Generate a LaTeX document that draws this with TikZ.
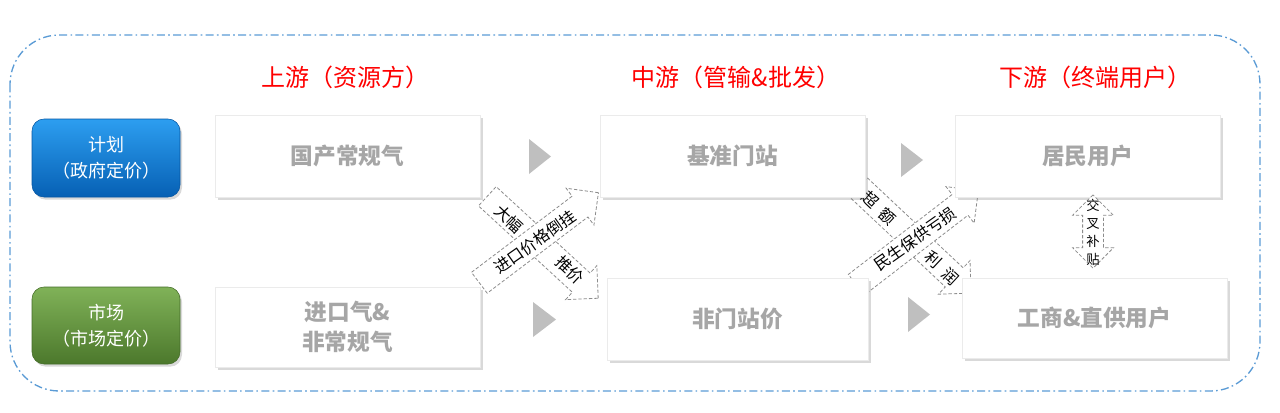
\documentclass[tikz,border=0pt]{standalone}
\usepackage{fontspec}
\setmainfont{Noto Sans CJK SC}
\usetikzlibrary{shapes.arrows,shadows}
\definecolor{borderblue}{RGB}{91,155,213}
\definecolor{boxtext}{RGB}{166,166,166}
\definecolor{tri}{RGB}{191,191,191}
\definecolor{dashgray}{RGB}{140,140,140}
\definecolor{bluetop}{RGB}{45,158,240}
\definecolor{bluebot}{RGB}{6,96,180}
\definecolor{greentop}{RGB}{128,178,88}
\definecolor{greenbot}{RGB}{76,120,44}
\begin{document}
\begin{tikzpicture}[x=0.75pt,y=-0.75pt,
  header/.style={text=red, font=\fontsize{18}{22}\selectfont, inner sep=0pt},
  infobox/.style={fill=white, draw=black!8, minimum width=198.75pt, minimum height=61.5pt,
    inner sep=0pt, align=center, text=boxtext, font=\fontsize{17}{22.5}\selectfont\bfseries,
    drop shadow={shadow xshift=2.2pt, shadow yshift=-2.2pt, opacity=0.3}},
  button/.style={rounded corners=9pt, minimum width=111pt, minimum height=58.5pt, inner sep=0pt,
    align=center, text=white, font=\fontsize{13.5}{19.5}\selectfont,
    drop shadow={shadow xshift=1.5pt, shadow yshift=-2pt, opacity=0.3}},
  blockarrow/.style={single arrow, draw=dashgray, fill=white, line width=0.6pt,
    dash pattern=on 2.5pt off 1.5pt, inner sep=0pt, inner ysep=9.5pt,
    single arrow head extend=7.5pt, single arrow tip angle=90, anchor=tail},
  arrowtext/.style={font=\fontsize{12}{14}\selectfont, inner sep=0pt},
  tri/.style={fill=tri}
]
\useasboundingbox (0,0) rectangle (1280,412);
% frame
\draw[borderblue, line width=1pt, dash pattern=on 6pt off 2.5pt on 1.2pt off 2.5pt,
  rounded corners=37pt] (10,35) rectangle (1260,391);
% headers
\node[header] (h1) at (345,77) {上游（资源方）};
\node[header] (h2) at (736,77) {中游（管输\&批发）};
\node[header] (h3) at (1095,77) {下游（终端用户）};
% buttons
\node[button, top color=bluetop, bottom color=bluebot, draw=bluebot!90!black] (plan) at (106,158) {计划\\（政府定价）};
\node[button, top color=greentop, bottom color=greenbot, draw=greenbot!90!black, minimum height=57.75pt] (market) at (106,325.5) {市场\\（市场定价）};
% cross arrows left
\node[blockarrow, rotate=-42.6, minimum height=113pt] (a1) at (487,196) {};
\node[arrowtext, rotate=-43] (t1a) at (509,219) {大幅};
\node[arrowtext, rotate=-43] (t1b) at (570,270) {推价};
\node[blockarrow, rotate=37.1, minimum height=112pt] (a2) at (479,283) {};
\node[arrowtext, rotate=35] (t2) at (535,242) {进口价格倒挂};
% cross arrows right
\node[blockarrow, rotate=-43.2, minimum height=116pt] (a3) at (858,187) {};
\node[arrowtext, rotate=-43] (t3a) at (879,208) {超\hspace{0.5em}额};
\node[arrowtext, rotate=-43] (t3b) at (942,268) {利\hspace{0.5em}润};
\node[blockarrow, rotate=37.6, minimum height=115.5pt] (a4) at (856,285) {};
\node[arrowtext, rotate=35] (t4) at (915,239) {民生保供亏损};
% boxes
\node[infobox] (A) at (347.5,156) {国产常规气};
\node[infobox, minimum height=60pt] (B) at (347.5,327) {进口气\&\\非常规气};
\node[infobox] (C) at (732.5,156) {基准门站};
\node[infobox, minimum width=195.75pt] (D) at (737.5,319) {非门站价};
\node[infobox] (E) at (1087.5,156) {居民用户};
\node[infobox, minimum height=60pt] (F) at (1094.5,318) {工商\&直供用户};
% triangles
\fill[tri] (529,139) -- (551,156.5) -- (529,174) -- cycle;
\fill[tri] (533,302) -- (556,319.5) -- (533,337) -- cycle;
\fill[tri] (901,143) -- (923,160) -- (901,177) -- cycle;
\fill[tri] (908,297) -- (930,314.5) -- (908,332) -- cycle;
% cross subsidy
\node[double arrow, draw=dashgray, fill=white, line width=0.6pt, dash pattern=on 2.5pt off 1.5pt,
  rotate=90, minimum height=55pt, inner sep=0pt, inner ysep=7.5pt,
  double arrow head extend=7.5pt, double arrow tip angle=90] (xs) at (1093,231.5) {};
\node[font=\fontsize{10}{13.5}\selectfont, align=center, inner sep=0pt] (xst) at (1093,232.5) {交\\叉\\补\\贴};
\end{tikzpicture}
\end{document}
